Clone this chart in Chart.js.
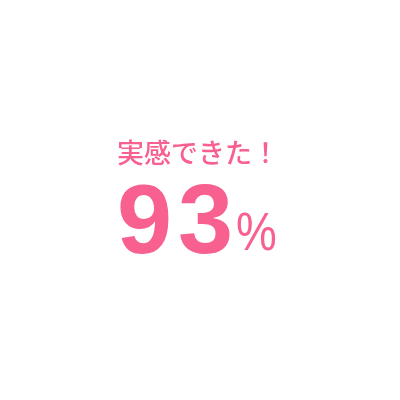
<!DOCTYPE html>
<html lang="ja">
<head>
    <meta charset="UTF-8">
    <title>実感できた</title>
    <script src="https://cdn.jsdelivr.net/npm/chart.js"></script>
    <style>
        html, body { margin: 0; padding: 0; background: #fff; }
        #wrap { width: 400px; height: 400px; }
    </style>
</head>
<body>
    <div id="wrap"><canvas id="myChart" width="400" height="400"></canvas></div>
    <script>
        const labels = ["実感できた！", "その他"];
        const values = [93, 7];
        const centerLabel = "実感できた！";
        const centerValue = "93";
        const centerUnit = "%";

        const pink = "#f8608f";

        // center text
        const centerText = {
            id: 'centerText',
            afterDraw(chart) {
                const ctx = chart.ctx;
                const cx = 198;
                ctx.save();
                ctx.fillStyle = pink;
                ctx.textBaseline = 'alphabetic';
                ctx.textAlign = 'center';
                ctx.font = '500 27px "Noto Sans CJK JP"';
                ctx.fillText(centerLabel, cx, 163);

                ctx.textAlign = 'left';
                ctx.font = 'bold 99px "Liberation Sans", Arial';
                let x = 117;
                for (const d of centerValue) {
                    ctx.fillText(d, x, 253);
                    x += ctx.measureText(d).width + 6;
                }
                // narrower, taller percent sign
                ctx.font = '54px "Liberation Sans", Arial';
                ctx.translate(236, 250);
                ctx.scale(0.85, 1);
                ctx.fillText(centerUnit, 0, 0);
                ctx.restore();
            }
        };

        new Chart(document.getElementById('myChart'), {
            type: 'doughnut',
            data: {
                labels: labels,
                datasets: [{
                    data: values,
                    backgroundColor: ['#ffffff', '#ffffff'],
                    borderWidth: 0
                }]
            },
            options: {
                responsive: false,
                animation: false,
                cutout: '80%',
                plugins: {
                    legend: { display: false },
                    tooltip: { enabled: false }
                }
            },
            plugins: [centerText]
        });
    </script>
</body>
</html>
